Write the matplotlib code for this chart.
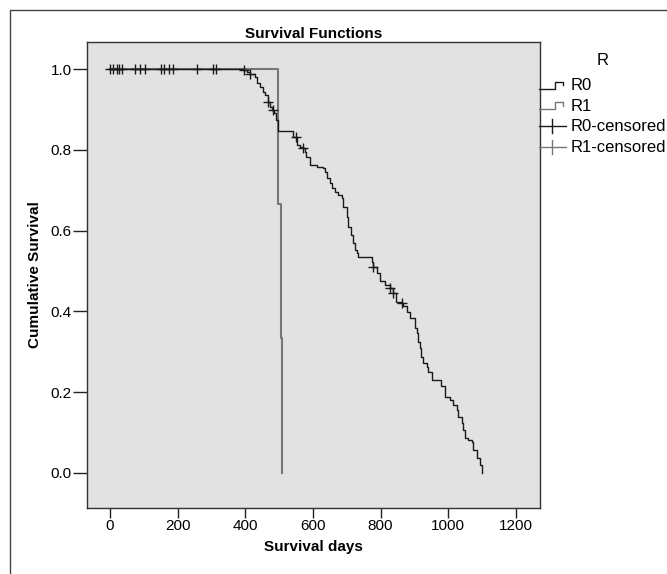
# %%
import numpy as np
import matplotlib
matplotlib.use("Agg")
import matplotlib.pyplot as plt
from matplotlib.lines import Line2D
from matplotlib.legend_handler import HandlerBase

plt.rcParams['font.family'] = ['Liberation Sans', 'DejaVu Sans']

# %% data
# R0: event times (days) and survival after each step
r0_times = [392, 404, 414, 429, 434, 443, 453, 458, 466, 473, 478, 485, 490, 496, 497,
            542, 552, 562, 571, 576, 581, 591, 611, 631, 636, 641, 650, 655, 665, 675,
            685, 690, 700, 704, 714, 719, 724, 729, 734, 774, 778, 788, 798, 813, 828,
            837, 847, 862, 867, 877, 887, 902, 907, 911, 916, 921, 926, 936, 941, 951,
            980, 990, 1005, 1015, 1025, 1030, 1040, 1044, 1049, 1059, 1069, 1074, 1084,
            1094, 1099, 1100]
r0_surv = [0.997, 0.993, 0.988, 0.981, 0.965, 0.956, 0.944, 0.936, 0.919, 0.907, 0.899,
           0.890, 0.874, 0.857, 0.847, 0.832, 0.812, 0.808, 0.804, 0.795, 0.783, 0.762,
           0.758, 0.754, 0.746, 0.729, 0.717, 0.705, 0.696, 0.688, 0.680, 0.659, 0.634,
           0.610, 0.589, 0.569, 0.552, 0.544, 0.535, 0.523, 0.511, 0.494, 0.474, 0.465,
           0.457, 0.445, 0.424, 0.420, 0.412, 0.399, 0.383, 0.358, 0.346, 0.325, 0.309,
           0.288, 0.272, 0.263, 0.251, 0.230, 0.214, 0.189, 0.181, 0.168, 0.156, 0.139,
           0.123, 0.106, 0.086, 0.082, 0.077, 0.057, 0.036, 0.020, 0.003, 0.0]
r0_censored = [0, 8, 20, 27, 37, 74, 89, 104, 151, 160, 174, 187, 256, 305, 313, 395,
               414, 468, 483, 550, 571, 778, 828, 837, 862]

# R1: three events
r1_times = [496, 505, 510]
r1_surv = [0.667, 0.333, 0.0]

legend_labels = ["R0", "R1", "R0-censored", "R1-censored"]
r0_color = "#1a1a1a"
r1_color = "#777777"


def surv_at(t, times, surv):
    # value of the step function at time t
    idx = np.searchsorted(times, t, side='right') - 1
    return 1.0 if idx < 0 else surv[idx]


class StepHandler(HandlerBase):
    def create_artists(self, legend, orig_handle, xdescent, ydescent, width, height, fontsize, trans):
        xs = np.array([0.0, 0.55, 0.55, 0.85, 0.85]) * width - xdescent
        ys = np.array([0.1, 0.1, 0.7, 0.7, 0.4]) * height - ydescent
        ln = Line2D(xs, ys, color=orig_handle.get_color(), lw=1.0, transform=trans)
        return [ln]


class CrossHandler(HandlerBase):
    def create_artists(self, legend, orig_handle, xdescent, ydescent, width, height, fontsize, trans):
        h = Line2D(np.array([0.0, 0.95]) * width - xdescent, np.array([0.4, 0.4]) * height - ydescent,
                   color=orig_handle.get_color(), lw=1.0, transform=trans)
        v = Line2D(np.array([0.45, 0.45]) * width - xdescent, np.array([-0.2, 1.0]) * height - ydescent,
                   color=orig_handle.get_color(), lw=1.0, transform=trans)
        return [h, v]


# %% plot
fig = plt.figure(figsize=(6.67, 5.74), dpi=100)
ax = fig.add_axes([0.1304, 0.115, 0.679, 0.8118])
ax.set_facecolor("#e2e2e2")

# R1 first, R0 over it
ax.step([0] + r1_times, [1.0] + r1_surv, where='post', color=r1_color, lw=1.5)
ax.step([0] + r0_times, [1.0] + r0_surv, where='post', color=r0_color, lw=1.0)

cy = [surv_at(t, r0_times, r0_surv) for t in r0_censored]
ax.plot(r0_censored, cy, ls='none', marker='+', ms=7, mew=1.0, color=r0_color)

ax.set_xlim(-68, 1271)
ax.set_ylim(-0.087, 1.067)
ax.set_xticks([0, 200, 400, 600, 800, 1000, 1200])
ax.set_yticks([0.0, 0.2, 0.4, 0.6, 0.8, 1.0])
ax.set_yticklabels([f"{v:.1f}" for v in [0.0, 0.2, 0.4, 0.6, 0.8, 1.0]])
ax.tick_params(axis='x', length=7, width=1.0, labelsize=11, color="#222222", pad=1)
ax.tick_params(axis='y', length=10, width=1.0, labelsize=11, color="#222222", pad=1)
for s in ax.spines.values():
    s.set_color("#333333")
    s.set_linewidth(1.0)

ax.set_title("Survival Functions", fontsize=11, fontweight='bold', pad=3)
ax.set_xlabel("Survival days", fontsize=11, fontweight='bold', labelpad=5)
ax.set_ylabel("Cumulative Survival", fontsize=11, fontweight='bold', labelpad=6)

handles = [Line2D([], [], color=r0_color), Line2D([], [], color=r1_color),
           Line2D([], [], color=r0_color), Line2D([], [], color=r1_color)]
hmap = {handles[0]: StepHandler(), handles[1]: StepHandler(),
        handles[2]: CrossHandler(), handles[3]: CrossHandler()}
leg = fig.legend(handles, legend_labels, handler_map=hmap, title="R",
                 loc='upper left', bbox_to_anchor=(0.808, 0.907), frameon=False,
                 fontsize=12, title_fontsize=12, handlelength=1.7, handletextpad=0.2,
                 labelspacing=0.33, borderaxespad=0, borderpad=0)
leg._legend_box.sep = 7

# outer frame of the chart area (left and top edges)
fig.add_artist(Line2D([10 / 667, 10 / 667, 1.0], [0, 1 - 10 / 574, 1 - 10 / 574],
                      transform=fig.transFigure, color="#444444", lw=1.0))

fig.savefig("out.png", dpi=100)
